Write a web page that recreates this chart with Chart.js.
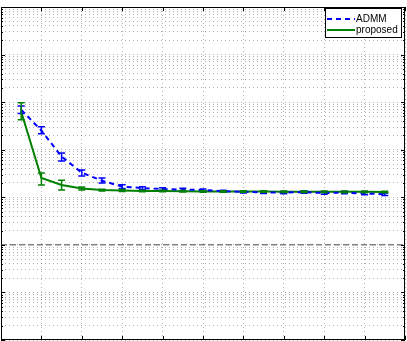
<!DOCTYPE html>
<html>
<head>
<meta charset="utf-8">
<script src="https://cdn.jsdelivr.net/npm/chart.js@4.4.1/dist/chart.umd.min.js"></script>
<style>
  html, body { margin: 0; padding: 0; background: #fff; }
  canvas { display: block; }
</style>
</head>
<body>
<canvas id="errChart" width="407" height="341"></canvas>
<script>
// iterations (x values)
var iterations = [1, 2, 3, 4, 5, 6, 7, 8, 9, 10, 11, 12, 13, 14, 15, 16, 17, 18, 19];

// ADMM mean and error bar bounds
var admmMean = [0.069, 0.0253, 0.00715, 0.00329, 0.00223, 0.00168, 0.00156, 0.00149, 0.00145, 0.00142,
  0.00134, 0.00130, 0.00127, 0.00126, 0.00128, 0.00123, 0.00125, 0.00120, 0.00116];
var admmLow = [0.058, 0.0216, 0.00581, 0.0028, 0.0020, 0.00153, 0.00146, 0.00140, 0.00136, 0.00134,
  0.00127, 0.00123, 0.00120, 0.00119, 0.00121, 0.00116, 0.00118, 0.00113, 0.00109];
var admmHigh = [0.083, 0.0303, 0.00855, 0.00375, 0.00254, 0.00184, 0.00166, 0.00158, 0.00154, 0.00150,
  0.00141, 0.00137, 0.00134, 0.00133, 0.00135, 0.00130, 0.00132, 0.00127, 0.00123];

// proposed method mean and error bar bounds
var propMean = [0.0627, 0.00254, 0.00181, 0.00153, 0.00142, 0.00139, 0.00136, 0.00135, 0.00134, 0.00133,
  0.00133, 0.00132, 0.00132, 0.00131, 0.00131, 0.00130, 0.00130, 0.00130, 0.00129];
var propLow = [0.0425, 0.00181, 0.00142, 0.00143, 0.00136, 0.00133, 0.00131, 0.00130, 0.00129, 0.00128,
  0.00128, 0.00127, 0.00127, 0.00126, 0.00126, 0.00125, 0.00125, 0.00125, 0.00124];
var propHigh = [0.097, 0.00324, 0.00227, 0.00164, 0.00148, 0.00145, 0.00141, 0.00140, 0.00139, 0.00138,
  0.00138, 0.00137, 0.00137, 0.00136, 0.00136, 0.00135, 0.00135, 0.00135, 0.00134];

// reference level (grey dashed line)
var refX = [0, 20];
var refLevel = [1e-4, 1e-4];

// tick values
var xTicks = [0, 2, 4, 6, 8, 10, 12, 14, 16, 18, 20];
var yTicks = [
  1e-6, 2e-6, 3e-6, 4e-6, 5e-6, 6e-6, 7e-6, 8e-6, 9e-6,
  1e-5, 2e-5, 3e-5, 4e-5, 5e-5, 6e-5, 7e-5, 8e-5, 9e-5,
  1e-4, 2e-4, 3e-4, 4e-4, 5e-4, 6e-4, 7e-4, 8e-4, 9e-4,
  1e-3, 2e-3, 3e-3, 4e-3, 5e-3, 6e-3, 7e-3, 8e-3, 9e-3,
  1e-2, 2e-2, 3e-2, 4e-2, 5e-2, 6e-2, 7e-2, 8e-2, 9e-2,
  1e-1, 2e-1, 3e-1, 4e-1, 5e-1, 6e-1, 7e-1, 8e-1, 9e-1,
  1, 2, 3, 4, 5, 6, 7, 8, 9, 10
];

function toPoints(xs, ys) {
  return xs.map(function (x, i) { return { x: x, y: ys[i] }; });
}

function isDecade(v) {
  var l = Math.log10(v);
  return Math.abs(l - Math.round(l)) < 1e-9;
}

// error bars, placed with the chart scales
var errorBars = {
  id: "errorBars",
  afterDatasetsDraw: function (chart) {
    var ctx = chart.ctx;
    var xs = chart.scales.x, ys = chart.scales.y;
    var area = chart.chartArea;
    ctx.save();
    ctx.beginPath();
    ctx.rect(area.left, area.top, area.right - area.left, area.bottom - area.top);
    ctx.clip();
    chart.data.datasets.forEach(function (ds) {
      if (!ds.errLow) return;
      ctx.strokeStyle = ds.borderColor;
      ctx.lineWidth = 1.5;
      ctx.setLineDash([]);
      ds.data.forEach(function (p, i) {
        var px = xs.getPixelForValue(p.x);
        var lo = ys.getPixelForValue(ds.errLow[i]);
        var hi = ys.getPixelForValue(ds.errHigh[i]);
        ctx.beginPath();
        ctx.moveTo(px, lo); ctx.lineTo(px, hi);
        ctx.moveTo(px - 3.5, lo); ctx.lineTo(px + 3.5, lo);
        ctx.moveTo(px - 3.5, hi); ctx.lineTo(px + 3.5, hi);
        ctx.stroke();
      });
    });
    ctx.restore();
  }
};

// axes box with inward ticks, then the legend box
var axesBox = {
  id: "axesBox",
  afterDraw: function (chart) {
    var ctx = chart.ctx;
    var a = chart.chartArea;
    var xs = chart.scales.x, ys = chart.scales.y;
    ctx.save();
    ctx.strokeStyle = "#000";
    ctx.lineWidth = 1;
    ctx.setLineDash([]);
    ctx.beginPath();
    xTicks.forEach(function (v) {
      var px = Math.round(xs.getPixelForValue(v)) + 0.5;
      ctx.moveTo(px, a.top); ctx.lineTo(px, a.top + 4);
      ctx.moveTo(px, a.bottom); ctx.lineTo(px, a.bottom - 4);
    });
    yTicks.forEach(function (v) {
      var py = Math.round(ys.getPixelForValue(v)) + 0.5;
      var len = isDecade(v) ? 4 : 2;
      ctx.moveTo(a.left, py); ctx.lineTo(a.left + len, py);
      ctx.moveTo(a.right, py); ctx.lineTo(a.right - len, py);
    });
    ctx.stroke();
    ctx.strokeRect(Math.round(a.left) + 0.5, Math.round(a.top) + 0.5,
      Math.round(a.right - a.left) - 1, Math.round(a.bottom - a.top) - 1);

    // legend
    var lx = 325, ly = 8, lw = 76, lh = 29;
    ctx.fillStyle = "#fff";
    ctx.fillRect(lx, ly, lw, lh);
    ctx.strokeStyle = "#000";
    ctx.strokeRect(lx + 0.5, ly + 0.5, lw, lh);
    ctx.font = "10px 'Liberation Sans', Arial, sans-serif";
    ctx.textBaseline = "middle";
    ctx.textAlign = "left";
    var items = chart.data.datasets.filter(function (ds) { return ds.inLegend; });
    items.forEach(function (ds, i) {
      var yy = ly + 11 + i * 11;
      ctx.strokeStyle = ds.borderColor;
      ctx.lineWidth = 2;
      ctx.setLineDash(ds.borderDash || []);
      ctx.beginPath();
      ctx.moveTo(lx + 2, yy); ctx.lineTo(lx + 30, yy);
      ctx.stroke();
      ctx.setLineDash([]);
      ctx.fillStyle = "#000";
      ctx.fillText(ds.label, lx + 31, yy);
    });
    ctx.restore();
  }
};

var gridColor = "rgba(0,0,0,0.3)";

var ctx = document.getElementById("errChart").getContext("2d");
var myChart = new Chart(ctx, {
  type: "line",
  data: {
    datasets: [
      {
        label: "ADMM",
        inLegend: true,
        data: toPoints(iterations, admmMean),
        errLow: admmLow,
        errHigh: admmHigh,
        borderColor: "#0000ff",
        backgroundColor: "#0000ff",
        borderWidth: 2,
        borderDash: [5, 4],
        pointRadius: 0,
        tension: 0
      },
      {
        label: "proposed",
        inLegend: true,
        data: toPoints(iterations, propMean),
        errLow: propLow,
        errHigh: propHigh,
        borderColor: "#008000",
        backgroundColor: "#008000",
        borderWidth: 2,
        pointRadius: 0,
        tension: 0
      },
      {
        label: "reference",
        data: toPoints(refX, refLevel),
        borderColor: "#808080",
        borderWidth: 1.5,
        borderDash: [6, 3],
        pointRadius: 0
      }
    ]
  },
  options: {
    responsive: false,
    animation: false,
    layout: { padding: { left: 1, top: 7, right: 2, bottom: 1 } },
    plugins: {
      tooltip: { enabled: false },
      legend: { display: false }
    },
    scales: {
      x: {
        type: "linear",
        min: 0,
        max: 20,
        ticks: { display: false },
        border: { display: false, dash: [1, 3] },
        grid: { color: gridColor, drawTicks: false, lineWidth: 1 },
        afterBuildTicks: function (scale) {
          scale.ticks = xTicks.map(function (v) { return { value: v }; });
        }
      },
      y: {
        type: "logarithmic",
        min: 1e-6,
        max: 10,
        ticks: { display: false },
        border: { display: false, dash: [1, 3] },
        grid: { color: gridColor, drawTicks: false, lineWidth: 1 },
        afterBuildTicks: function (scale) {
          scale.ticks = yTicks.map(function (v) { return { value: v }; });
        }
      }
    }
  },
  plugins: [errorBars, axesBox]
});
</script>
</body>
</html>
